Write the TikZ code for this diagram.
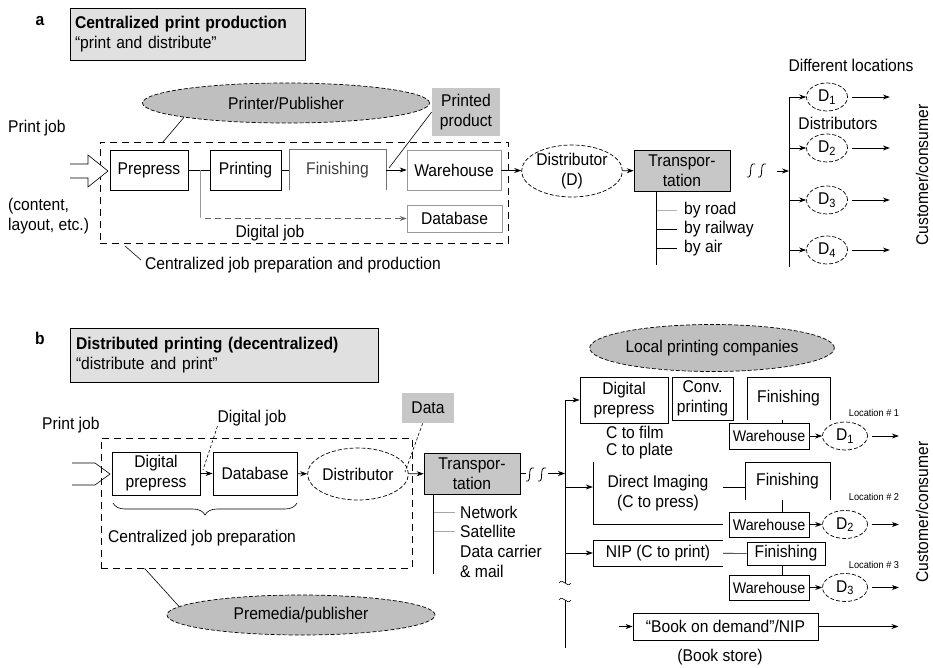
\documentclass[tikz,border=0pt]{standalone}
\usepackage{fontspec}
\setmainfont{Liberation Sans}[FakeStretch=0.92]
\usetikzlibrary{shapes.geometric,arrows.meta,decorations.pathreplacing}

\begin{document}
\begin{tikzpicture}[x=1pt,y=-1pt,font=\fontsize{17}{20}\selectfont]
        \tikzstyle{stage}=[draw,line width=0.9pt,inner sep=0pt,align=center]
        \tikzstyle{pale}=[draw=black!40,line width=0.7pt,inner sep=0pt,align=center]
        \tikzstyle{bare}=[inner sep=0pt,align=center]
        \tikzstyle{greybox}=[draw,fill=black!22,line width=0.7pt,inner sep=0pt,align=center]
        \tikzstyle{heading}=[draw,fill=black!12,line width=0.7pt,inner sep=0pt,align=left]
        \tikzstyle{oval}=[ellipse,draw,dash pattern=on 4pt off 2pt,line width=0.7pt,inner sep=0pt,align=center]
        \tikzstyle{company}=[oval,fill=black!25]
        \tikzstyle{groupframe}=[draw,dash pattern=on 7pt off 5pt,line width=0.8pt,inner sep=0pt]
        \tikzstyle{flow}=[-{Stealth[length=7pt,width=5pt]},line width=0.7pt]
        \tikzstyle{wire}=[line width=0.6pt]
        \tikzstyle{txt}=[inner sep=0pt,align=left]
        \tikzstyle{smallfont}=[font=\fontsize{15.5}{17}\selectfont]
        \tikzstyle{tinyfont}=[font=\fontsize{10}{12}\selectfont]
        \tikzstyle{titlefont}=[font=\fontsize{17}{20}\selectfont]
        \useasboundingbox (0,0) rectangle (933,668);

       % (a) print and distribute
       \begin{scope}
         \node [txt,titlefont] (tagA) at (40,21) {\textbf{a}};
         \node [heading,titlefont,minimum width=235pt,minimum height=52pt,text width=225pt] (titleA) at (187.5,34) {\textbf{Centralized print production}\\“print and distribute”};
         \node [company,minimum width=287pt,minimum height=40pt] (pubA) at (286,103) {Printer/Publisher};
         \node [greybox,draw=none,minimum width=68pt,minimum height=48pt] (prodA) at (466,112) {Printed\\product};
         \node [txt,anchor=west] (jobA) at (8,128) {Print job};
         \node [txt,anchor=west] (contA) at (8,216) {(content,\\layout, etc.)};
         \node [groupframe,minimum width=408pt,minimum height=101pt] (frameA) at (304,192.5) {};
         \node [stage,minimum width=78pt,minimum height=40pt] (prepA) at (149,170) {Prepress};
         \node [stage,minimum width=71pt,minimum height=40pt] (printA) at (245.5,170) {Printing};
         \node [bare,text=black!75,minimum width=97pt,minimum height=40pt] (finA) at (337.5,170) {Finishing};
         \node [pale,minimum width=94pt,minimum height=40pt] (whA) at (454,170) {Warehouse};
         \node [pale,minimum width=95pt,minimum height=27pt] (dbA) at (454.5,218.5) {Database};
         \node [txt] (digA) at (270,233) {Digital job};
         \node [txt,anchor=west] (centA) at (145,265) {Centralized job preparation and production};
         \node [oval,minimum width=95pt,minimum height=52pt] (distA) at (572,171) {Distributor\\(D)};
         \node [greybox,minimum width=96pt,minimum height=41pt] (transA) at (682,170.5) {Transpor-\\tation};
         \node [txt,anchor=west] (roadA) at (684,210) {by road};
         \node [txt,anchor=west] (railA) at (684,229) {by railway};
         \node [txt,anchor=west] (airA) at (684,248) {by air};
         \node [txt] (locA) at (851,65) {Different locations};
         \node [oval,minimum width=41pt,minimum height=28pt] (d1) at (827,97) {D\textsubscript{1}};
         \node [txt] (distsA) at (838,123) {Distributors};
         \node [oval,minimum width=41pt,minimum height=28pt] (d2) at (827,148) {D\textsubscript{2}};
         \node [oval,minimum width=41pt,minimum height=28pt] (d3) at (827,200) {D\textsubscript{3}};
         \node [oval,minimum width=41pt,minimum height=28pt] (d4) at (827,250) {D\textsubscript{4}};
         \node [txt,rotate=90] (custA) at (922,175) {Customer/consumer};

         \coordinate (splitA) at (200,170);
         \coordinate (bendA) at (200,218.5);
         \coordinate (pubfootA) at (163,142);
         \coordinate (prodfootA) at (389,168);
         \coordinate (cornerA) at (125,246);
         \coordinate (gapA) at (777,171);
         \coordinate (busTopA) at (789,97);
         \coordinate (busEndA) at (789,267);

         \draw[wire,fill=white] (70,164) -- (88,164) -- (88,155) -- (108,171) -- (88,187) -- (88,178) -- (70,178);
         \path[wire,draw] (prepA) -- (printA);
         \path[wire,draw] (printA) -- (finA);
         \draw[wire,black!55] (finA.south west) -- (finA.north west) -- (finA.north east) -- (finA.south east);
         \path[flow,draw] (finA) -- (whA);
         \draw[wire,black!40] (splitA) -- (bendA);
         \draw[flow,black!60,dash pattern=on 6pt off 4pt] ([xshift=5pt]bendA) -- (dbA);
         \draw[wire] (pubA.188) -- (pubfootA);
         \draw[wire] (prodA.west) -- (prodfootA);
         \draw[wire] (cornerA) -- ([xshift=-4pt,yshift=5pt]centA.west);
         \path[flow,draw] (whA) -- (distA);
         \path[flow,draw] (distA) -- (transA);
         \draw[wire] ([xshift=23pt]transA.south west) -- ++(0,74);
         \draw[wire,black!30] ([xshift=-27pt]roadA.west) -- ([xshift=-7pt]roadA.west);
         \draw[wire] ([xshift=-27pt]railA.west) -- ([xshift=-7pt]railA.west);
         \draw[wire] ([xshift=-27pt]airA.west) -- ([xshift=-7pt]airA.west);
         \draw[line width=0.8pt] (747,177) .. controls (754,179) and (747,162) .. (755,164);
         \draw[line width=0.8pt] (758,177) .. controls (765,179) and (758,162) .. (766,164);
         \path[flow,draw] (gapA) -- (busTopA |- gapA);
         \draw[wire] (busTopA) -- (busEndA);
         \path[flow,draw] (busTopA) -- (d1);
         \path[flow,draw] (busTopA |- d2) -- (d2);
         \path[flow,draw] (busTopA |- d3) -- (d3);
         \path[flow,draw] (busTopA |- d4) -- (d4);
         \draw[flow] ([xshift=4pt]d1.east) -- ++(38,0);
         \draw[flow] ([xshift=4pt]d2.east) -- ++(38,0);
         \draw[flow] ([xshift=4pt]d3.east) -- ++(38,0);
         \draw[flow] ([xshift=4pt]d4.east) -- ++(38,0);
       \end{scope}

       % (b) distribute and print
       \begin{scope}
         \node [txt,titlefont] (tagB) at (40,338) {\textbf{b}};
         \node [heading,titlefont,minimum width=308pt,minimum height=54pt,text width=296pt] (titleB) at (224,355) {\textbf{Distributed printing (decentralized)}\\“distribute and print”};
         \node [txt,anchor=west] (jobB) at (42,425) {Print job};
         \node [groupframe,minimum width=311pt,minimum height=130pt] (frameB) at (256.5,503) {};
         \node [stage,minimum width=88pt,minimum height=43pt] (dprepB) at (156,473.5) {Digital\\prepress};
         \node [stage,minimum width=84pt,minimum height=43pt] (dbB) at (255,473.5) {Database};
         \node [oval,minimum width=95pt,minimum height=52pt] (distB) at (358,474) {Distributor};
         \node [txt] (digB) at (252,418) {Digital job};
         \node [greybox,draw=none,minimum width=52pt,minimum height=30pt] (dataB) at (428,408) {Data};
         \node [greybox,minimum width=96pt,minimum height=41pt] (transB) at (472,473.5) {Transpor-\\tation};
         \node [txt,anchor=west] (netB) at (460,512) {Network};
         \node [txt,anchor=west] (satB) at (460,531) {Satellite};
         \node [txt,anchor=west] (carB) at (460,551) {Data carrier};
         \node [txt,anchor=west] (mailB) at (460,571) {\& mail};
         \node [txt,anchor=west] (centB) at (108,538) {Centralized job preparation};
         \node [company,minimum width=268pt,minimum height=40pt] (premB) at (301,615) {Premedia/publisher};

         \node [company,minimum width=217pt,minimum height=47pt] (localB) at (712,348) {Local printing companies};
         \node [stage,minimum width=88pt,minimum height=46pt] (dprepC) at (624,400) {Digital\\prepress};
         \node [stage,minimum width=61pt,minimum height=43pt] (convC) at (702.5,398.5) {Conv.\\printing};
         \node [bare,minimum width=83pt,minimum height=43pt] (fin1) at (788.5,398.5) {Finishing};
         \node [txt,anchor=west] (filmC) at (606,432) {C to film};
         \node [txt,anchor=west] (plateC) at (606,451) {C to plate};
         \node [stage,smallfont,minimum width=80pt,minimum height=26pt] (wh1) at (769,436) {Warehouse};
         \node [oval,minimum width=45pt,minimum height=28pt] (e1) at (845,436) {D\textsubscript{1}};
         \node [txt,tinyfont] (loc1) at (874,413) {Location \# 1};
         \node [bare,minimum width=130pt,minimum height=62pt] (dimg) at (658,493) {Direct Imaging\\(C to press)};
         \node [bare,minimum width=85pt,minimum height=38pt] (fin2) at (787.5,481) {Finishing};
         \node [stage,smallfont,minimum width=80pt,minimum height=25pt] (wh2) at (769,524.5) {Warehouse};
         \node [oval,minimum width=45pt,minimum height=28pt] (e2) at (845,524.5) {D\textsubscript{2}};
         \node [txt,tinyfont] (loc2) at (874,497) {Location \# 2};
         \node [bare,minimum width=130pt,minimum height=26pt] (nip) at (658,553) {NIP (C to print)};
         \node [stage,minimum width=78pt,minimum height=23pt] (fin3) at (786,553.5) {Finishing};
         \node [stage,smallfont,minimum width=80pt,minimum height=25pt] (wh3) at (769,587.5) {Warehouse};
         \node [oval,minimum width=45pt,minimum height=28pt] (e3) at (845,587.5) {D\textsubscript{3}};
         \node [txt,tinyfont] (loc3) at (874,565) {Location \# 3};
         \node [stage,minimum width=185pt,minimum height=27pt] (bod) at (725.5,626.5) {“Book on demand”/NIP};
         \node [txt] (store) at (720,657) {(Book store)};
         \node [txt,rotate=90] (custB) at (922,512) {Customer/consumer};

         \coordinate (digfootB) at (203,470);
         \coordinate (datafootB) at (405,472);
         \coordinate (busTopB) at (565,400);
         \coordinate (busBreakB) at (565,583);
         \coordinate (busResumeB) at (565,600);
         \coordinate (busEndB) at (565,648);
         \coordinate (dimgIn) at ([yshift=6pt]dimg.west);

         \draw[wire] (72,463) -- (95,463) -- (110,474) -- (95,485) -- (72,485);
         \path[flow,draw] (dprepB) -- (dbB);
         \path[flow,draw] (dbB) -- (distB);
         \path[flow,draw] (distB) -- (transB);
         \draw[wire,dash pattern=on 3pt off 2pt] (digB.south west) -- (digfootB);
         \draw[wire,dash pattern=on 3pt off 2pt] ([xshift=21pt]dataB.south west) -- (datafootB);
         \draw[wire] ([xshift=10pt]transB.south west) -- ++(0,80);
         \draw[wire,black!35] ([xshift=-26pt]netB.west) -- ([xshift=-5pt]netB.west);
         \draw[wire,black!35] ([xshift=-26pt]satB.west) -- ([xshift=-5pt]satB.west);
         \draw[wire,decorate,decoration={brace,mirror,amplitude=12pt}] (113,503) -- (297,503);
         \draw[wire] ([xshift=44pt]frameB.south west) -- (premB.176);
         \draw[wire] (transB.east) -- ++(6,0);
         \draw[line width=0.8pt] (526,481) .. controls (533,483) and (526,466) .. (534,468);
         \draw[line width=0.8pt] (538,481) .. controls (545,483) and (538,466) .. (546,468);
         \draw[flow] (548,473.5) -- (busTopB |- transB);
         \draw[wire] (busTopB) -- (busBreakB);
         \draw[wire] ([xshift=-6pt]busBreakB) .. controls +(4,-6) and +(-4,6) .. ([xshift=6pt]busBreakB);
         \draw[wire] ([xshift=-6pt]busResumeB) .. controls +(4,-6) and +(-4,6) .. ([xshift=6pt]busResumeB);
         \draw[wire] (busResumeB) -- (busEndB);
         \path[flow,draw] (busTopB) -- (dprepC);
         \path[flow,draw] (busTopB |- dimgIn) -- (dimgIn);
         \path[flow,draw] (busTopB |- nip) -- (nip);
         \draw[wire] (fin1.south west) -- (fin1.north west) -- (fin1.north east) -- (fin1.south east);
         \draw[wire] (fin2.south west) -- (fin2.north west) -- (fin2.north east) -- (fin2.south east);
         \draw[wire] (dimg.north west) -- (dimg.south west) -- (dimg.south east);
         \draw[wire] (nip.north east) -- (nip.north west) -- (nip.south west) -- (nip.south east);
         \draw[wire] (dimg.east |- dimgIn) -- (fin2.west |- dimgIn);
         \path[wire,draw] (nip) -- (fin3);
         \draw[wire] ([xshift=13pt]wh1.north) -- ([xshift=13pt]wh1.north |- fin1.south);
         \draw[wire] ([xshift=13pt]wh2.north) -- ([xshift=13pt]wh2.north |- fin2.south);
         \draw[wire] ([xshift=13pt]wh3.north) -- ([xshift=13pt]wh3.north |- fin3.south);
         \path[flow,draw] (wh1) -- (e1);
         \path[flow,draw] (wh2) -- (e2);
         \path[flow,draw] (wh3) -- (e3);
         \draw[flow] ([xshift=4pt]e1.east) -- ++(27,0);
         \draw[flow] ([xshift=4pt]e2.east) -- ++(27,0);
         \draw[flow] ([xshift=4pt]e3.east) -- ++(27,0);
         \draw[flow] ([xshift=-14pt]bod.west) -- (bod.west);
         \draw[flow] (bod.east) -- ++(80,0);
       \end{scope}
      \end{tikzpicture}
\end{document}
